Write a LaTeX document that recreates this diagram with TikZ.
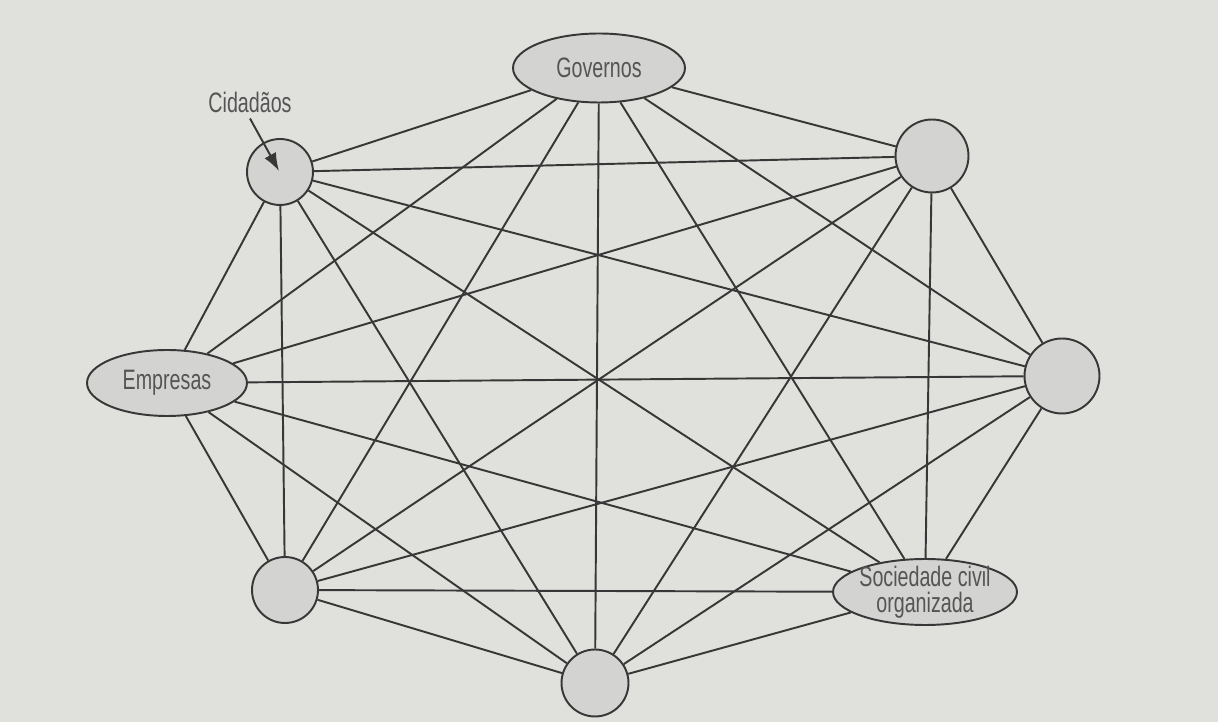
\documentclass[tikz,border=0pt]{standalone}
\usepackage{fontspec}
\setmainfont{Liberation Sans}[FakeStretch=0.7]
\usetikzlibrary{
  shapes.geometric,
  positioning,
  arrows.meta
}
\definecolor{paper}{RGB}{224,225,221}
\definecolor{blobfill}{RGB}{211,212,209}
\definecolor{ink}{RGB}{55,55,55}
\definecolor{textgray}{RGB}{85,85,85}
\tikzset{
  >=Latex,
  names/.style={
    text=textgray,
    font=\fontsize{16}{15}\selectfont,
    align=center
  },
  blob/.style={
    circle,
    draw=ink,
    line width=1.1pt,
    fill=blobfill,
    inner sep=0pt,
    minimum size=#1
  },
  oval/.style 2 args={
    ellipse,
    draw=ink,
    line width=1.1pt,
    fill=blobfill,
    inner sep=0pt,
    minimum width=#1,
    minimum height=#2
  },
  link/.style={
    draw=ink,
    line width=1.1pt
  }
}

\begin{document}
\begin{tikzpicture}[x=0.02cm,y=-0.02cm]
\fill[paper] (0,0) rectangle (1218,722);
\useasboundingbox (0,0) rectangle (1218,722);
\node[oval={3.44cm}{1.38cm}, label={[names]center:Governos}] (gov) at (599,68) {};
\node[blob=1.46cm] (tr) at (932,156) {};
\node[blob=1.5cm] (rt) at (1062,376) {};
\node[oval={3.68cm}{1.32cm}, label={[names]center:{Sociedade civil\\organizada}}] (soc) at (925,592) {};
\node[blob=1.34cm] (bot) at (595,683) {};
\node[blob=1.32cm] (bl) at (285,590) {};
\node[oval={3.2cm}{1.32cm}, label={[names]center:Empresas}] (emp) at (167,383) {};
\node[blob=1.32cm] (cid) at (280,172) {};
\foreach \a [count=\i] in {gov,tr,rt,soc,bot,bl,emp,cid} {
  \foreach \b [count=\j] in {gov,tr,rt,soc,bot,bl,emp,cid} {
    \ifnum\j>\i
      \draw[link] (\a) -- (\b);
    \fi
  }
}
\node[names] (cidname) at (250,102) {Cidadãos};
\coordinate (cidtip) at (279,171);
\draw[ink, line width=1.1pt, -{Latex[length=0.36cm,width=0.26cm]}] (cidname.south) -- (cidtip);
\end{tikzpicture}
\end{document}
